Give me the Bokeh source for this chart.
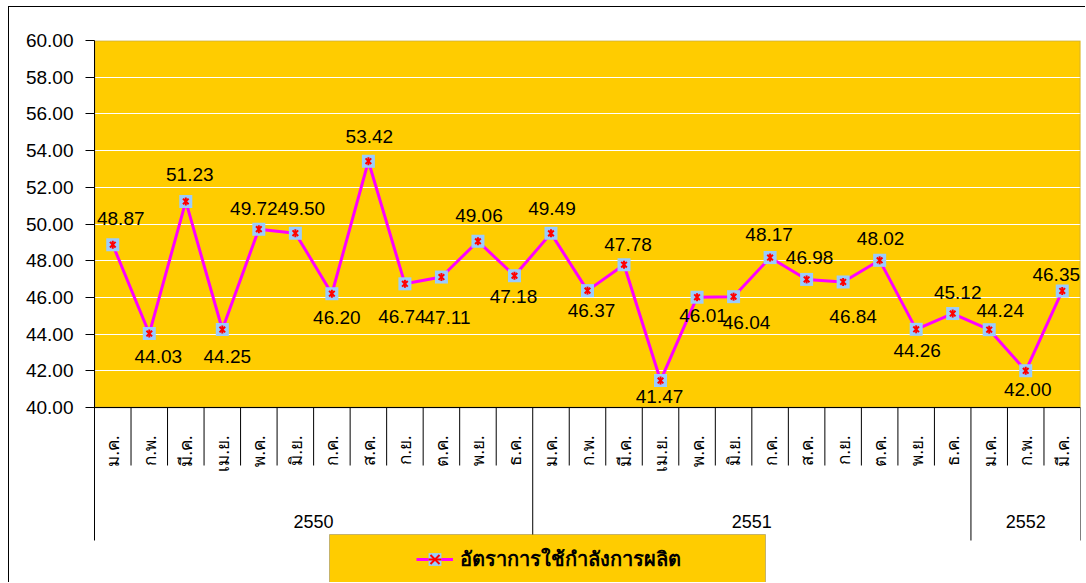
import math
from bokeh.plotting import figure
from bokeh.models import (FactorRange, Range1d, FixedTicker, NumeralTickFormatter,
                          ColumnDataSource, BoxAnnotation, Span, Legend, LegendItem)
from bokeh.core.properties import value
from bokeh.embed import file_html
from bokeh.resources import INLINE

# ---------------- data ----------------
years = ["2550"] * 12 + ["2551"] * 12 + ["2552"] * 3
months = ["ม.ค.", "ก.พ.", "มี.ค.", "เม.ย.", "พ.ค.", "มิ.ย.",
          "ก.ค.", "ส.ค.", "ก.ย.", "ต.ค.", "พ.ย.", "ธ.ค."] * 2 + ["ม.ค.", "ก.พ.", "มี.ค."]
rates = [48.87, 44.03, 51.23, 44.25, 49.72, 49.50, 46.20, 53.42, 46.74, 47.11, 49.06, 47.18,
         49.49, 46.37, 47.78, 41.47, 46.01, 46.04, 48.17, 46.98, 46.84, 48.02, 44.26, 45.12,
         44.24, 42.00, 46.35]
year_groups = ["2550", "2551", "2552"]
y_ticks = [40, 42, 44, 46, 48, 50, 52, 54, 56, 58, 60]
series_name = "อัตราการใช้กำลังการผลิต"

# ---------------- layout (page pixels) ----------------
OX, OY = 9, 7                 # canvas origin on the page (after margin + border)
W, H = 1086 - OX, 583 - OY
FRAME_L, FRAME_R = 94, 1080
ML, MR = FRAME_L - OX, OX + W - FRAME_R
PLOT_TOP_PX, PLOT_BOT_PX, CANVAS_BOT_PX = 40, 407, 583
MT, MB = PLOT_TOP_PX - OY, 0
FRAME_W = FRAME_R - FRAME_L
Y_MIN, Y_MAX = y_ticks[0], y_ticks[-1]
PX_PER_UNIT = (PLOT_BOT_PX - PLOT_TOP_PX) / (Y_MAX - Y_MIN)
N = len(rates)
PX_PER_CAT = FRAME_W / N


def ypx(px):
    return Y_MIN + (PLOT_BOT_PX - px) / PX_PER_UNIT


def xpx(px):
    return (px - FRAME_L) / PX_PER_CAT


# label placement (screen px offsets from marker centre)
lab_dx = [8, 9, 4, 5, -5, 6, 5, 1, -3, 6, 1, -1, 1, 4, 4, -1, 6, 13, -1, 3, 10, 1, 1, 5, 11, 2, -6]
lab_dy = [-26, 23, -27, 27, -21, -25, 24, -25, 33, 40, -26, 21, -25, 20, -20, 16, 18, 26,
          -23, -22, 35, -22, 21, -21, -19, 19, -16]

factors = list(zip(years, months))

p = figure(width=W, height=H, output_backend="svg", toolbar_location=None,
           x_range=FactorRange(factors=factors, factor_padding=0, group_padding=0,
                               subgroup_padding=0, range_padding=0),
           y_range=Range1d(ypx(CANVAS_BOT_PX), Y_MAX),
           x_axis_location=None, min_border_left=ML, min_border_right=MR,
           min_border_top=MT, min_border_bottom=MB,
           background_fill_color="white", border_fill_color="white",
           outline_line_color=None, margin=(OY - 1, 0, 0, OX - 1),
           styles={"border-left": "1px solid black", "border-top": "1px solid black"})
p.title.visible = False

# gold plot area (drawn before the grid) with grey border
plot_area = BoxAnnotation(bottom=Y_MIN, top=Y_MAX, left=-1, right=N + 1,
                          fill_color="#FFCC00", fill_alpha=1,
                          line_color=None, level="underlay")
p.center = [plot_area] + list(p.center)
p.add_layout(BoxAnnotation(bottom=Y_MIN, top=Y_MAX, fill_alpha=0,
                           line_color="#808080", line_width=2, level="underlay"))

# y axis
ax = p.yaxis[0]
ax.ticker = FixedTicker(ticks=y_ticks)
ax.formatter = NumeralTickFormatter(format="0.00")
ax.bounds = (ypx(540), Y_MAX)
ax.major_tick_out = 9
ax.major_tick_in = 0
ax.minor_tick_out = 0
ax.minor_tick_in = 0
ax.axis_line_color = "black"
ax.major_tick_line_color = "black"
ax.major_label_standoff = 12
ax.major_label_text_font = "Liberation Sans"
ax.major_label_text_font_size = "19px"
ax.major_label_text_color = "black"

p.xgrid.visible = False
p.ygrid.ticker = FixedTicker(ticks=y_ticks[1:-1])
p.ygrid.grid_line_color = "white"
p.ygrid.grid_line_width = 1

# table lines
p.add_layout(Span(location=Y_MIN, dimension="width", line_color="black", line_width=1))
group_bounds = [0]
for g in year_groups:
    group_bounds.append(group_bounds[-1] + years.count(g))
month_bounds = [b for b in range(1, N) if b not in group_bounds]
p.segment(x0=month_bounds, x1=month_bounds, y0=[Y_MIN] * len(month_bounds),
          y1=[ypx(465)] * len(month_bounds), line_color="black", line_width=1)
gb = group_bounds[1:]
p.segment(x0=gb, x1=gb, y0=[Y_MIN] * len(gb), y1=[ypx(540)] * len(gb),
          line_color="black", line_width=1)

# month labels (vertical)
p.text(x=factors, y=[Y_MIN] * N, text=months, angle=math.pi / 2,
       text_align="right", text_baseline="middle", y_offset=28,
       text_font=value("Noto Sans"), text_font_size="17px", text_color="black")
# year labels
centers = [(group_bounds[i] + group_bounds[i + 1]) / 2 for i in range(len(year_groups))]
p.text(x=centers, y=[Y_MIN] * len(centers), text=year_groups, y_offset=114,
       text_align="center", text_baseline="middle",
       text_font=value("Liberation Sans"), text_font_size="18px", text_color="black")

# series
src = ColumnDataSource(dict(x=factors, y=rates, label=[f"{v:.2f}" for v in rates],
                            dx=lab_dx, dy=lab_dy))
r_line = p.line("x", "y", source=src, line_color="#FF00FF", line_width=3)
r_sq = p.scatter("x", "y", source=src, marker="square", size=13,
                 fill_color="#99CCFF", line_color=None)
r_x = p.scatter("x", "y", source=src, marker="x", size=8, line_color="red", line_width=2)
r_v = p.scatter("x", "y", source=src, marker="dash", angle=math.pi / 2, size=8,
                line_color="red", line_width=2)
p.text("x", "y", text="label", source=src, x_offset="dx", y_offset="dy",
       text_align="center", text_baseline="middle",
       text_font=value("Liberation Sans"), text_font_size="19px", text_color="black")

# legend box + legend
p.add_layout(BoxAnnotation(left=xpx(329), right=xpx(765), top=ypx(534), bottom=ypx(600),
                           fill_color="#FFCC00", fill_alpha=1, line_color="#404040",
                           line_width=1))
legend = Legend(items=[LegendItem(label=series_name, renderers=[r_line, r_sq, r_x, r_v])],
                location=(416 - FRAME_L, CANVAS_BOT_PX - 575), padding=0, margin=0, spacing=0,
                glyph_width=37, glyph_height=32, label_standoff=7,
                border_line_color=None, background_fill_alpha=0,
                label_text_font="Noto Sans", label_text_font_style="bold",
                label_text_font_size="20px", label_text_color="black")
p.add_layout(legend)

open("out.html", "w").write(file_html(p, INLINE))
